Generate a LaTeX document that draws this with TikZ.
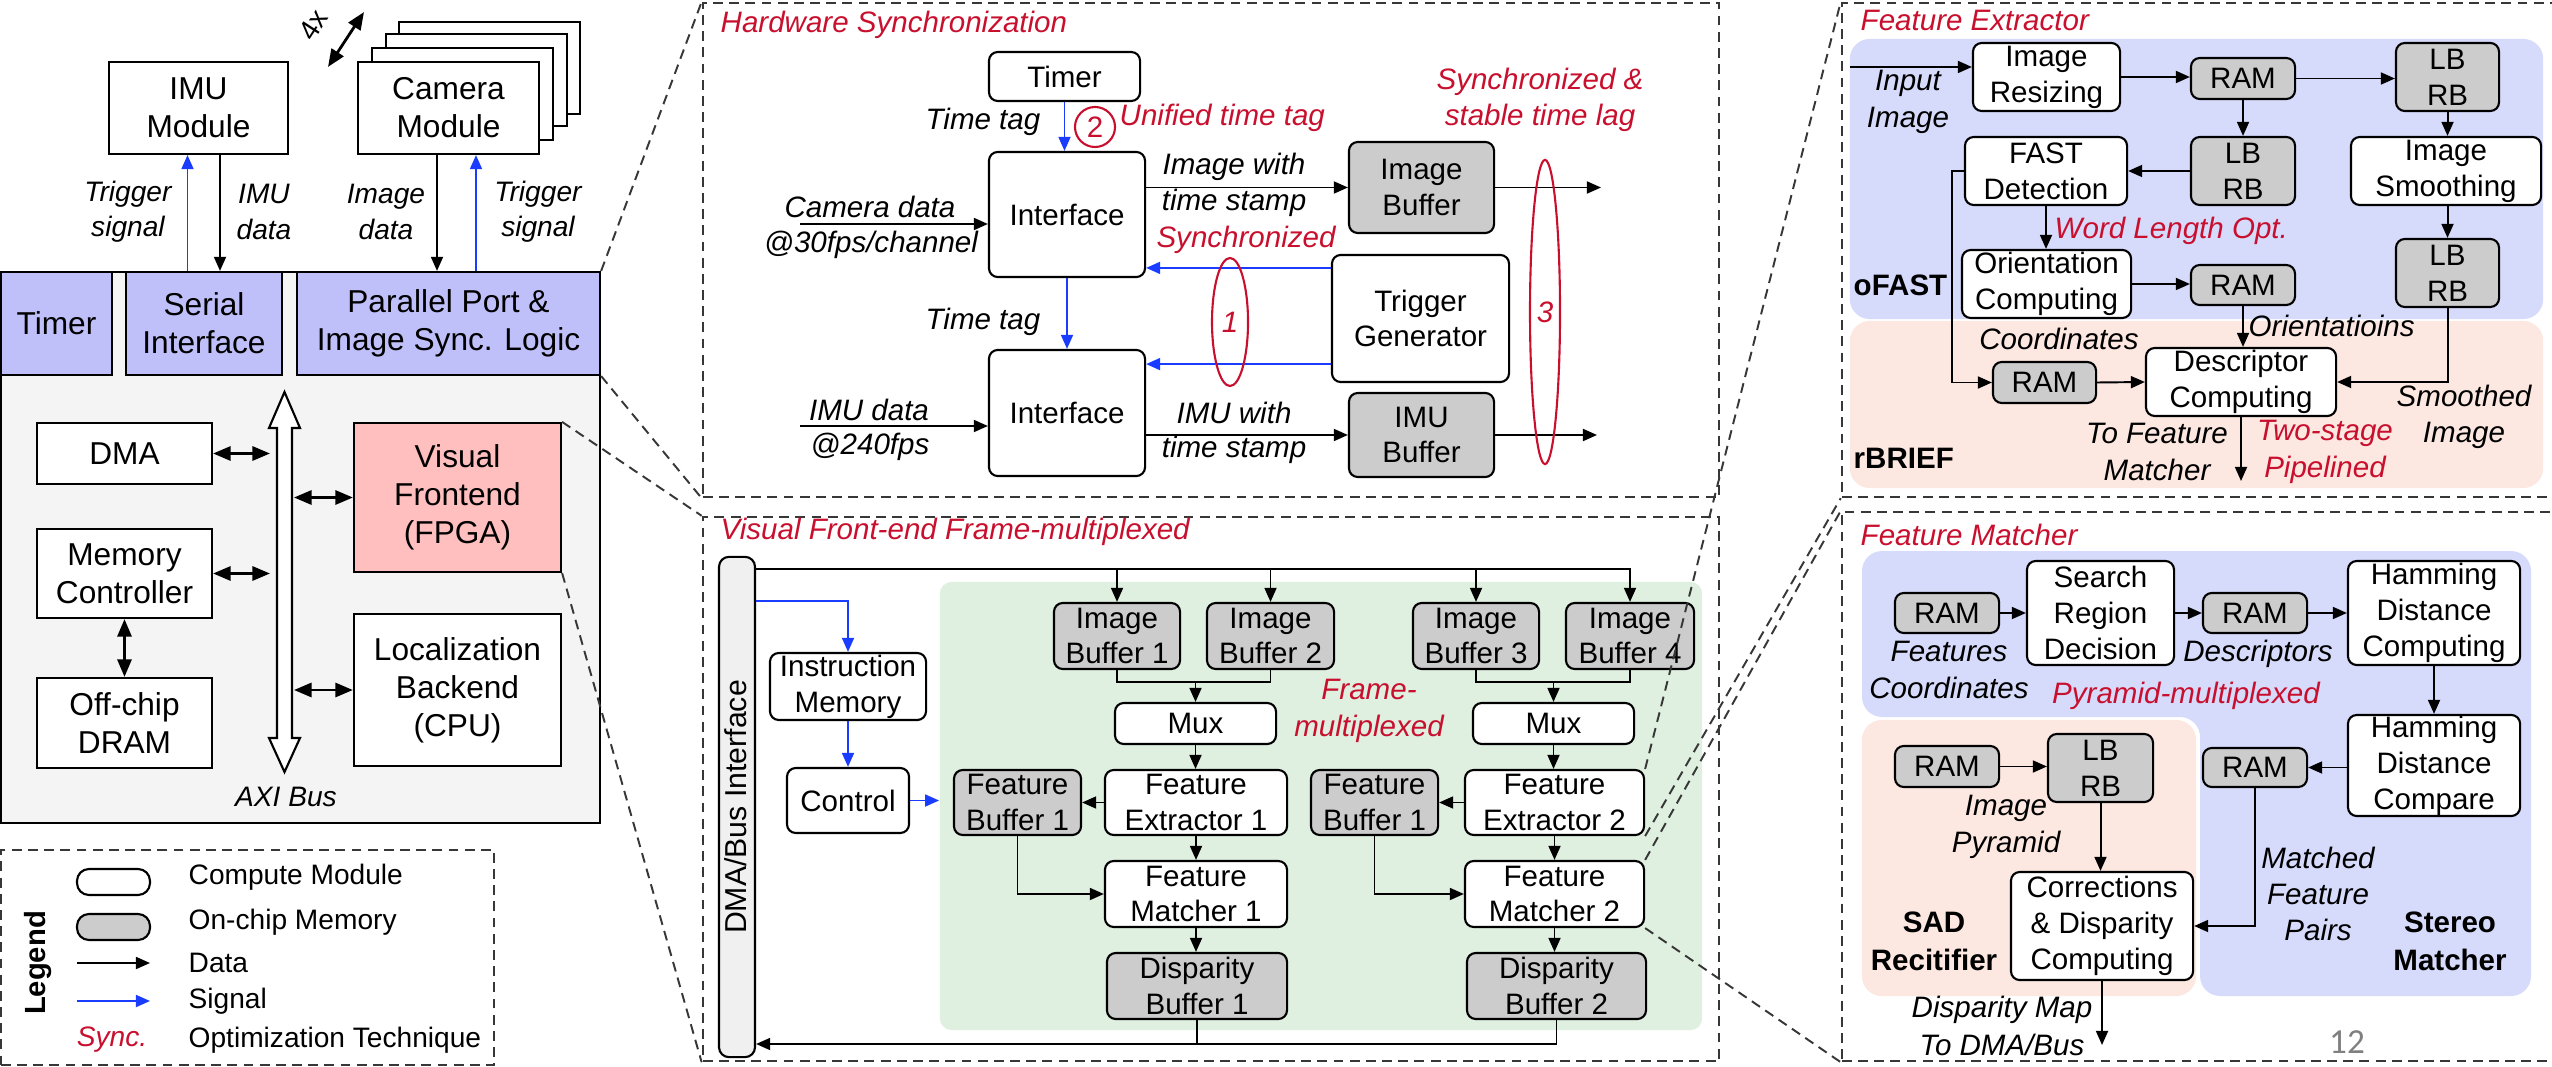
\documentclass[tikz,border=0pt]{standalone}
\usepackage{fontspec}
\setmainfont{Liberation Sans}
\newfontfamily\slidefont{Carlito}
\usetikzlibrary{arrows.meta,calc,shapes.geometric}

\definecolor{optred}{RGB}{200,16,46}
\definecolor{sigblue}{RGB}{25,60,255}
\definecolor{memgray}{RGB}{204,204,204}
\definecolor{lav}{RGB}{191,191,250}
\definecolor{fpgapink}{RGB}{255,191,191}
\definecolor{socgray}{RGB}{244,244,244}
\definecolor{mxgreen}{RGB}{223,239,224}
\definecolor{stblue}{RGB}{214,219,251}
\definecolor{stpink}{RGB}{252,231,225}
\definecolor{busgray}{RGB}{240,240,240}
\definecolor{zoomgray}{RGB}{55,55,55}

\begin{document}
\begin{tikzpicture}[x=0.01cm,y=-0.01cm,
  wh/.style 2 args={minimum width=#1cm,minimum height=#2cm},
  sq/.style={draw,fill=white,line width=0.6pt,inner sep=0pt,align=center,font=\fontsize{9pt}{10.8pt}\selectfont},
  mod/.style={draw,fill=white,rounded corners=2.5pt,line width=0.6pt,inner sep=0pt,align=center,font=\fontsize{8.4pt}{10.2pt}\selectfont},
  mem/.style={mod,fill=memgray},
  region/.style={inner sep=0pt,rounded corners=0.2cm},
  panel/.style={draw=zoomgray,line width=0.6pt,dash pattern=on 2.8pt off 1.8pt,inner sep=0pt},
  zoomln/.style={draw=zoomgray,line width=0.55pt,dash pattern=on 2.8pt off 1.8pt},
  dat/.style={-{Triangle[length=4pt,width=3.4pt]},line width=0.55pt},
  sig/.style={dat,draw=sigblue},
  wire/.style={line width=0.55pt},
  dbl/.style={{Triangle[length=5pt,width=4pt]}-{Triangle[length=5pt,width=4pt]},line width=0.8pt},
  lbl/.style={inner sep=0pt,align=center,font=\fontsize{8pt}{10pt}\selectfont\itshape},
  tlbl/.style={inner sep=0pt,align=center,font=\fontsize{8.4pt}{10.3pt}\selectfont\itshape},
  opt/.style={tlbl,text=optred},
  blbl/.style={inner sep=0pt,align=center,font=\fontsize{8.4pt}{10.8pt}\selectfont\bfseries},
  legl/.style={inner sep=0pt,anchor=west,font=\fontsize{8pt}{10pt}\selectfont}]

\useasboundingbox (0,0) rectangle (2552,1067);
\clip (0,0) rectangle (2552,1067);

% ---------------- system overview ----------------
\node[draw,fill=socgray,line width=0.6pt,inner sep=0pt,wh={5.99}{5.51}] (socbox) at (300.5,547.5) {};
\node[sq,fill=lav,wh={1.11}{1.03}] (tmr) at (56.5,323.5) {Timer};
\node[sq,fill=lav,wh={1.56}{1.03}] (ser) at (204,323.5) {Serial\\Interface};
\node[sq,fill=lav,wh={3.03}{1.03}] (par) at (448.5,323.5) {Parallel Port \&\\Image Sync. Logic};

\node[sq,wh={1.79}{0.92}] (imu) at (198.5,108) {IMU\\Module};
\node[sq,wh={1.81}{0.92}] (cam3) at (489.5,68) {};
\node[sq,wh={1.81}{0.92}] (cam2) at (476.5,80) {};
\node[sq,wh={1.81}{0.92}] (cam1) at (462.5,94) {};
\node[sq,wh={1.81}{0.92}] (cam) at (448.5,108) {Camera\\Module};

\coordinate (fx1) at (328,67);
\coordinate (fx2) at (364,12);
\draw[dbl] (fx1) -- (fx2);
\node[inner sep=0pt,rotate=57,font=\fontsize{8pt}{10pt}\selectfont] (fourx) at (313,25) {4x};

\coordinate (ta) at ($(imu.south)+(-11,0)$);
\coordinate (tb) at ($(imu.south)+(21.5,0)$);
\coordinate (tc) at ($(cam.south)+(-11.5,0)$);
\coordinate (td) at ($(cam.south)+(27.5,0)$);
\draw[sig] (ta |- ser.north) -- (ta);
\draw[dat] (tb) -- (tb |- ser.north);
\draw[dat] (tc) -- (tc |- par.north);
\draw[sig] (td |- par.north) -- (td);
\node[lbl] (ltrig1) at (128,212) {Trigger\\signal};
\node[lbl] (limud) at (264,212) {IMU\\data};
\node[lbl] (limgd) at (386,212) {Image\\data};
\node[lbl] (ltrig2) at (538,212) {Trigger\\signal};

\node[sq,wh={1.75}{0.61}] (dma) at (124.5,453.5) {DMA};
\node[sq,wh={1.75}{0.89}] (memc) at (124.5,573.5) {Memory\\Controller};
\node[sq,wh={1.75}{0.90}] (dram) at (124.5,723) {Off-chip\\DRAM};
\node[sq,fill=fpgapink,wh={2.07}{1.49}] (fpga) at (457.5,497.5) {Visual\\Frontend\\(FPGA)};
\node[sq,wh={2.07}{1.52}] (loc) at (457.5,690) {Localization\\Backend\\(CPU)};

% AXI bus as a hollow double arrow
\draw[fill=white,line width=0.6pt] (284.5,392) -- (300,428) -- (292,428) -- (292,738) -- (300,738)
  -- (284.5,772) -- (269,738) -- (277,738) -- (277,428) -- (269,428) -- cycle;
\coordinate (busl) at (270,580);
\coordinate (busr) at (294,580);
\draw[dbl] (dma.east) -- (dma.east -| busl);
\draw[dbl] (memc.east) -- (memc.east -| busl);
\draw[dbl] (busr |- fpga.west) -- (fpga.west);
\draw[dbl] (busr |- loc.west) -- (loc.west);
\draw[dbl] (memc.south) -- (dram.north);
\node[lbl] (axi) at (286,797) {AXI Bus};

% ---------------- legend ----------------
\node[panel,wh={4.93}{2.15}] (legend) at (247.5,957.5) {};
\node[inner sep=0pt,rotate=90,font=\fontsize{8.3pt}{10pt}\selectfont\bfseries] (legt) at (38,963) {Legend};
\node[mod,rounded corners=0.12cm,wh={0.73}{0.26}] (lgc) at (113.5,882) {};
\node[mem,rounded corners=0.12cm,wh={0.73}{0.26}] (lgm) at (113.5,927) {};
\coordinate (lgd1) at (77,963);
\coordinate (lgd2) at (150,963);
\coordinate (lgs1) at (77,1001);
\coordinate (lgs2) at (150,1001);
\draw[dat] (lgd1) -- (lgd2);
\draw[sig] (lgs1) -- (lgs2);
\node[opt,font=\fontsize{8pt}{10pt}\selectfont\itshape] (lgo) at (112,1040) {Sync.};
\node[legl] (lgt1) at (188,877) {Compute Module};
\node[legl] (lgt2) at (188,922) {On-chip Memory};
\node[legl] (lgt3) at (188,963) {Data};
\node[legl] (lgt4) at (188,1001) {Signal};
\node[legl] (lgt5) at (188,1040) {Optimization Technique};

% ---------------- hardware synchronization ----------------
\node[panel,wh={10.16}{4.94}] (hsp) at (1211,250) {};
\node[opt,anchor=west] (hst) at (720,25) {Hardware Synchronization};
\node[mod,wh={1.51}{0.49}] (timer) at (1064.5,76.5) {Timer};
\node[mod,wh={1.56}{1.25}] (if1) at (1067,214.5) {Interface};
\node[mod,wh={1.56}{1.26}] (if2) at (1067,413) {Interface};
\node[mem,wh={1.45}{0.91}] (ib) at (1421.5,187.5) {Image\\Buffer};
\node[mem,wh={1.45}{0.84}] (imub) at (1421.5,435) {IMU\\Buffer};
\node[mod,wh={1.77}{1.27}] (tg) at (1420.5,318.5) {Trigger\\Generator};

\draw[sig] (timer.south) -- (timer.south |- if1.north);
\draw[sig] (if1.south) -- (if2.north);
\node[tlbl,anchor=east] (tt1) at (1041,122) {Time tag};
\node[tlbl,anchor=east] (tt2) at (1041,322) {Time tag};
\node[circle,draw=optred,text=optred,line width=0.6pt,inner sep=0pt,wh={0.40}{0.40},font=\fontsize{8.4pt}{10pt}\selectfont] (c2) at (1095,127) {2};
\node[opt,anchor=west] (uni) at (1119,118) {Unified time tag};

\coordinate (camsrc) at (800,224);
\draw[dat] (camsrc) -- (camsrc -| if1.west);
\node[tlbl] (cd1) at (870,207) {Camera data};
\node[tlbl] (cd2) at (871,245) {@30fps/channel};
\draw[dat] (if1.east |- ib.west) -- (ib.west);
\node[tlbl] (iw1) at (1234,167) {Image with};
\node[tlbl] (iw2) at (1234,203) {time stamp};
\node[opt] (syn) at (1246,240) {Synchronized};

\coordinate (tga) at ($(tg.north west)+(0,14)$);
\coordinate (tgb) at ($(tg.south west)+(0,-19)$);
\draw[sig] (tga) -- (tga -| if1.east);
\draw[sig] (tgb) -- (tgb -| if2.east);

\coordinate (imusrc) at (800,426);
\draw[dat] (imusrc) -- (imusrc -| if2.west);
\node[tlbl] (id1) at (869,410) {IMU data};
\node[tlbl] (id2) at (870,447) {@240fps};
\draw[dat] (if2.east |- imub.west) -- (imub.west);
\node[tlbl] (mw1) at (1234,413) {IMU with};
\node[tlbl] (mw2) at (1234,450) {time stamp};

\node[ellipse,draw=optred,line width=0.6pt,inner sep=0pt,wh={0.36}{1.28},text=optred,font=\fontsize{8.4pt}{10pt}\selectfont\itshape] (e1) at (1230,322) {1};
\coordinate (ibo) at (1601,187.5);
\coordinate (imo) at (1597,435);
\draw[dat] (ib.east) -- (ibo);
\draw[dat] (imub.east) -- (imo);
\node[ellipse,draw=optred,line width=0.6pt,inner sep=0pt,wh={0.30}{3.04},text=optred,font=\fontsize{8.4pt}{10pt}\selectfont\itshape] (e3) at (1545,312) {3};
\node[opt] (stl) at (1540,100) {Synchronized \&\\stable time lag};

% ---------------- visual front-end ----------------
\node[panel,wh={10.16}{5.44}] (vfp) at (1211,789) {};
\node[opt,anchor=west] (vft) at (720,532) {Visual Front-end Frame-multiplexed};
\node[region,fill=mxgreen,rounded corners=0.12cm,wh={7.62}{4.48}] (fmx) at (1321,806) {};
\node[mod,fill=busgray,rounded corners=0.1cm,wh={0.36}{5.00}] (dmabus) at (737,807) {};
\node[inner sep=0pt,rotate=90,font=\fontsize{8.6pt}{10pt}\selectfont] (dmabust) at (736,807) {DMA/Bus Interface};

\node[mem,wh={1.26}{0.66}] (ib1) at (1117,636) {Image\\Buffer 1};
\node[mem,wh={1.27}{0.66}] (ib2) at (1270.5,636) {Image\\Buffer 2};
\node[mem,wh={1.26}{0.66}] (ib3) at (1476,636) {Image\\Buffer 3};
\node[mem,wh={1.28}{0.66}] (ib4) at (1630,636) {Image\\Buffer 4};
\coordinate (busy) at (760,569);
\draw[dat] (busy -| dmabus.east) -| (ib4.north);
\foreach \b in {ib1,ib2,ib3} \draw[dat] (busy -| \b.north) -- (\b.north);

\node[mod,wh={1.61}{0.41}] (mux1) at (1195.5,723.5) {Mux};
\node[mod,wh={1.61}{0.41}] (mux2) at (1553.5,723.5) {Mux};
\coordinate (mj1) at (1195.5,682);
\coordinate (mj2) at (1553.5,682);
\draw[wire] (ib1.south) |- (mj1) -| (ib2.south);
\draw[wire] (ib3.south) |- (mj2) -| (ib4.south);
\draw[dat] (mj1) -- (mux1.north);
\draw[dat] (mj2) -- (mux2.north);
\node[opt] (fmxt) at (1369,711) {Frame-\\multiplexed};

\node[mod,wh={1.82}{0.65}] (fe1) at (1196,802.5) {Feature\\Extractor 1};
\node[mem,wh={1.27}{0.65}] (fb1) at (1017.5,802.5) {Feature\\Buffer 1};
\node[mod,wh={1.82}{0.66}] (fm1) at (1196,894) {Feature\\Matcher 1};
\node[mem,wh={1.80}{0.66}] (db1) at (1197,986) {Disparity\\Buffer 1};
\node[mod,wh={1.79}{0.65}] (fe2) at (1554.5,802.5) {Feature\\Extractor 2};
\node[mem,wh={1.27}{0.65}] (fb2) at (1374.5,802.5) {Feature\\Buffer 1};
\node[mod,wh={1.79}{0.66}] (fm2) at (1554.5,894) {Feature\\Matcher 2};
\node[mem,wh={1.79}{0.66}] (db2) at (1556.5,986) {Disparity\\Buffer 2};

\draw[dat] (mux1.south) -- (mux1.south |- fe1.north);
\draw[dat] (mux2.south) -- (mux2.south |- fe2.north);
\draw[dat] (fe1.west) -- (fb1.east);
\draw[dat] (fe2.west) -- (fb2.east);
\draw[dat] (fe1.south) -- (fe1.south |- fm1.north);
\draw[dat] (fe2.south) -- (fe2.south |- fm2.north);
\draw[dat] (fb1.south) |- (fm1.west);
\draw[dat] (fb2.south) |- (fm2.west);
\draw[dat] (fm1.south) -- (fm1.south |- db1.north);
\draw[dat] (fm2.south) -- (fm2.south |- db2.north);
\coordinate (boty) at (760,1044);
\draw[dat] (db2.south) |- (boty -| dmabus.east);
\draw[wire] (db1.south) -- (db1.south |- boty);

\node[mod,wh={1.56}{0.67}] (im) at (848,686.5) {Instruction\\Memory};
\node[mod,wh={1.22}{0.65}] (ctrl) at (848,800.5) {Control};
\coordinate (sigy) at (760,601);
\draw[sig] (sigy -| dmabus.east) -| (im.north);
\draw[sig] (im.south) -- (ctrl.north);
\draw[sig] (ctrl.east) -- (ctrl.east -| fmx.west);

% ---------------- feature extractor ----------------
\node[panel,wh={7.18}{4.94}] (fep) at (2201,250) {};
\node[opt,anchor=west] (fet) at (1860,20) {Feature Extractor};
\node[region,fill=stblue,wh={6.93}{2.80}] (ofastbg) at (2196.5,179) {};
\node[region,fill=stpink,wh={6.93}{1.67}] (rbriefbg) at (2196.5,404.5) {};

\node[mod,wh={1.47}{0.68}] (ir) at (2046.5,77) {Image\\Resizing};
\node[mem,wh={1.04}{0.41}] (ram1) at (2243,78.5) {RAM};
\node[mem,wh={1.03}{0.68}] (lb1) at (2447.5,77) {LB\\RB};
\node[mod,wh={1.62}{0.68}] (fast) at (2046,171) {FAST\\Detection};
\node[mem,wh={1.04}{0.68}] (lb2) at (2243,171) {LB\\RB};
\node[mod,wh={1.90}{0.68}] (ism) at (2446,171) {Image\\Smoothing};
\node[mod,wh={1.69}{0.68}] (orc) at (2046.5,284) {Orientation\\Computing};
\node[mem,wh={1.04}{0.40}] (ram2) at (2243,285) {RAM};
\node[mem,wh={1.03}{0.68}] (lb3) at (2447.5,273) {LB\\RB};
\node[mod,wh={1.90}{0.68}] (desc) at (2241,382) {Descriptor\\Computing};
\node[mem,wh={1.03}{0.41}] (ram3) at (2044.5,382.5) {RAM};

\coordinate (inimg) at (1850,67);
\draw[dat] (inimg) -- (inimg -| ir.west);
\node[tlbl] (inimgt) at (1908,102) {Input\\Image};
\draw[dat] (ir.east) -- (ir.east -| ram1.west);
\draw[dat] (ram1.east) -- (ram1.east -| lb1.west);
\draw[dat] (ram1.south) -- (lb2.north);
\draw[dat] (lb2.west) -- (fast.east);
\draw[dat] (lb1.south) -- (lb1.south |- ism.north);
\draw[dat] (lb3.north |- ism.south) -- (lb3.north);
\draw[dat] (fast.south) -- (fast.south |- orc.north);
\node[opt,anchor=west] (wlo) at (2054,231) {Word Length Opt.};
\draw[dat] (orc.east) -- (orc.east -| ram2.west);
\node[blbl,anchor=west] (ofast) at (1853,285) {oFAST};
\coordinate (ftx) at (1952,300);
\draw[dat] (fast.west) -- (fast.west -| ftx) |- (ram3.west);
\node[tlbl] (coordt) at (2059,339) {Coordinates};
\draw[dat] (ram3.east) -- (desc.west);
\draw[dat] (ram2.south) -- (ram2.south |- desc.north);
\node[tlbl,anchor=west] (orit) at (2248,326) {Orientatioins};
\draw[dat] (lb3.south) |- (desc.east);
\node[tlbl] (smt) at (2464,417) {Smoothed\\Image};
\coordinate (feout) at (2241,481);
\draw[dat] (desc.south) -- (feout);
\node[tlbl] (tfm) at (2157,452) {To Feature\\Matcher};
\node[opt] (tsp) at (2325,452) {Two-stage\\Pipelined};
\node[blbl,anchor=west] (rbrief) at (1853,458) {rBRIEF};

% ---------------- feature matcher ----------------
\node[panel,wh={7.18}{5.49}] (fmp) at (2201,786.5) {};
\node[opt,anchor=west] (fmt) at (1860,535) {Feature Matcher};
\fill[stblue,rounded corners=0.2cm] (1862,551) -- (2531,551) -- (2531,996) -- (2200,996)
  -- (2200,717) -- (1862,717) -- cycle;
\node[region,fill=stpink,wh={3.34}{2.76}] (sadbg) at (2029,858) {};

\node[mem,wh={1.04}{0.40}] (ramf) at (1947,613) {RAM};
\node[mod,wh={1.47}{1.04}] (srd) at (2100.5,613) {Search\\Region\\Decision};
\node[mem,wh={1.04}{0.40}] (ramd) at (2255,613) {RAM};
\node[mod,wh={1.72}{1.04}] (hdc) at (2434,613) {Hamming\\Distance\\Computing};
\draw[dat] (ramf.east) -- (srd.west);
\draw[dat] (srd.east) -- (ramd.west);
\draw[dat] (ramd.east) -- (hdc.west);
\node[tlbl] (fct) at (1949,670) {Features\\Coordinates};
\node[tlbl] (dst) at (2258,654) {Descriptors};
\node[opt] (pmx) at (2186,696) {Pyramid-multiplexed};

\node[mod,wh={1.72}{1.01}] (hdcmp) at (2434,765.5) {Hamming\\Distance\\Compare};
\node[mem,wh={1.04}{0.39}] (ramm) at (2255,767.5) {RAM};
\node[mem,wh={1.04}{0.41}] (ramp) at (1947,766.5) {RAM};
\node[mem,wh={1.05}{0.68}] (lbp) at (2100.5,768) {LB\\RB};
\node[mod,wh={1.82}{1.08}] (cdc) at (2102,926) {Corrections\\\& Disparity\\Computing};
\draw[dat] (hdc.south) -- (hdcmp.north);
\draw[dat] (hdcmp.west |- ramm.east) -- (ramm.east);
\draw[dat] (ramp.east) -- (ramp.east -| lbp.west);
\node[tlbl] (ipt) at (2006,827) {Image\\Pyramid};
\draw[dat] (lbp.south) -- (lbp.south |- cdc.north);
\draw[dat] (ramm.south) |- (cdc.east);
\node[tlbl] (mfp) at (2318,894) {Matched\\Feature\\Pairs};
\node[blbl] (stm) at (2450,941) {Stereo\\Matcher};
\node[blbl] (sadt) at (1934,941) {SAD\\Recitifier};
\coordinate (fmout) at (2102,1045);
\draw[dat] (cdc.south) -- (fmout);
\node[tlbl,font=\fontsize{8.4pt}{11pt}\selectfont\itshape] (dmt) at (2002,1026) {Disparity Map\\To DMA/Bus};
\node[inner sep=0pt,text=gray,font=\slidefont\fontsize{10pt}{12pt}\selectfont] (pgno) at (2347,1042) {12};

% ---------------- zoom guides ----------------
\draw[zoomln] (par.north east) -- (hsp.north west);
\draw[zoomln] (par.south east) -- (hsp.south west);
\draw[zoomln] (fpga.north east) -- (vfp.north west);
\draw[zoomln] (fpga.south east) -- (vfp.south west);
\draw[zoomln] (fe2.north east) -- (fep.north west);
\draw[zoomln] (fe2.south east) -- (fep.south west);
\draw[zoomln] (fm2.north east) -- (fmp.north west);
\draw[zoomln] (fm2.south east) -- (fmp.south west);
\end{tikzpicture}
\end{document}
